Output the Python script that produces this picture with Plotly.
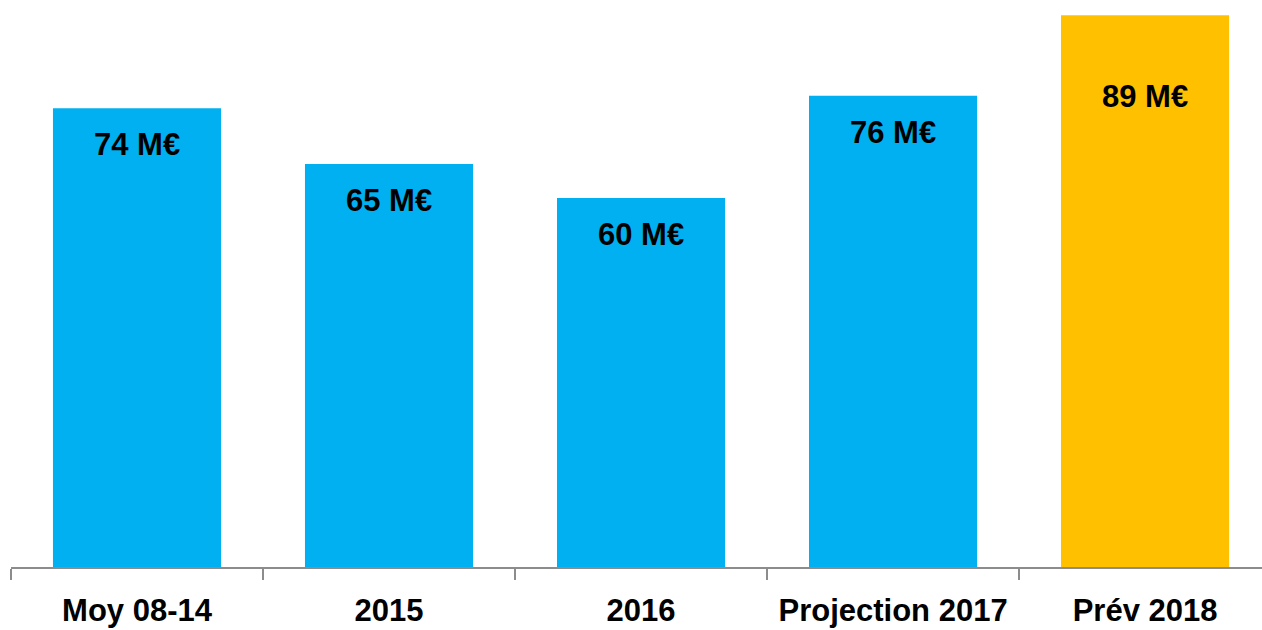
import plotly.graph_objects as go

categories = ["Moy 08-14", "2015", "2016", "Projection 2017", "Prév 2018"]
values = [74, 65, 59.5, 76, 89]
labels = ["74 M€", "65 M€", "60 M€", "76 M€", "89 M€"]

# styling
bar_colors = ["#00B0F0", "#00B0F0", "#00B0F0", "#00B0F0", "#FFC000"]
label_shift = [-17, -17, -17, -17, -62]
FONT = "Liberation Sans, Arial, sans-serif"
FSIZE = 31

fig = go.Figure()
fig.add_trace(go.Bar(
    x=categories, y=values, marker=dict(color=bar_colors, line=dict(width=0)),
    width=0.667, hoverinfo="skip",
))
for i, (v, t, s) in enumerate(zip(values, labels, label_shift)):
    fig.add_annotation(x=i, y=v, xref="x", yref="y", text="<b>%s</b>" % t, showarrow=False,
                       yanchor="top", yshift=s,
                       font=dict(family=FONT, size=FSIZE, color="black"))

fig.update_layout(
    width=1262, height=630,
    margin=dict(l=11, r=0, t=0, b=63, autoexpand=False),
    plot_bgcolor="white", paper_bgcolor="white",
    showlegend=False,
    xaxis=dict(
        type="category",
        range=[-0.5, 4.464], showgrid=False, zeroline=False,
        showline=True, linecolor="#8c8c8c", linewidth=1.5,
        ticks="outside", tickson="boundaries", ticklen=11, tickcolor="#8c8c8c", tickwidth=1.5,
        tickfont=dict(family=FONT, size=FSIZE, color="black"),
        tickangle=0, automargin=False,
        ticklabelstandoff=15,
        tickvals=categories, ticktext=["<b>%s</b>" % c for c in categories],
    ),
    yaxis=dict(range=[0, 91.45], visible=False),
)
fig.write_html("out.html")
